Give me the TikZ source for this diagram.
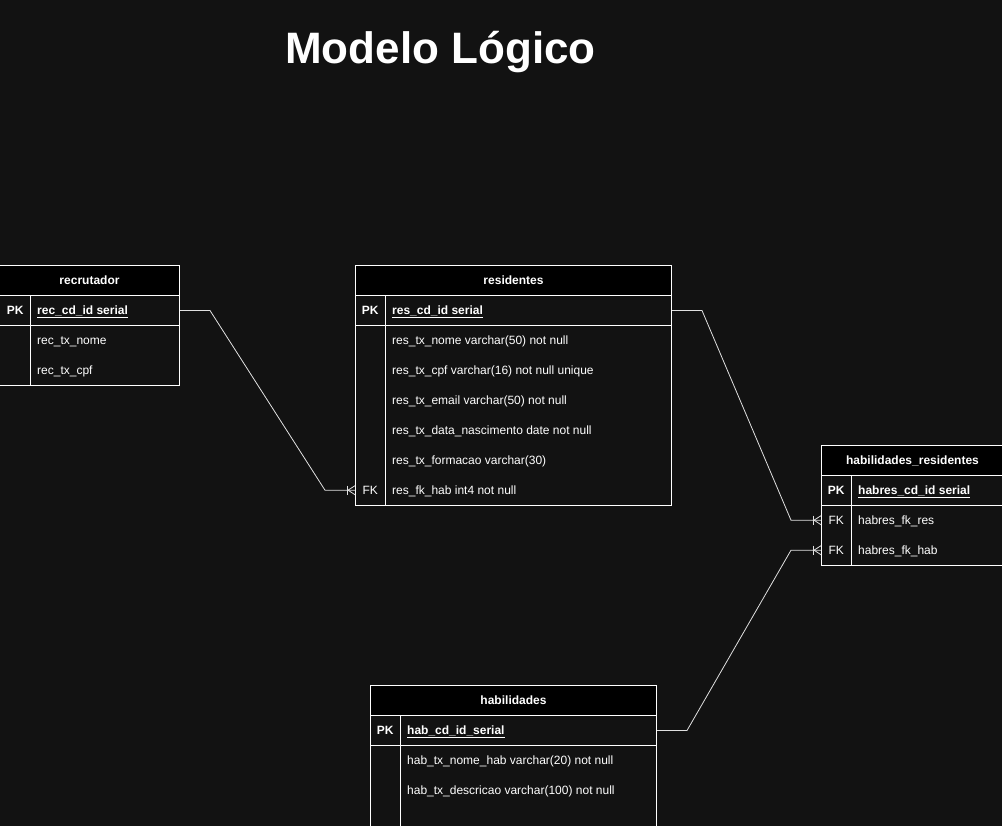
\documentclass[tikz,border=0pt]{standalone}
\usepackage{fontspec}
\setmainfont{Liberation Sans}
\usetikzlibrary{calc}
\definecolor{bgdark}{HTML}{121212}
\definecolor{linegray}{HTML}{E0E0E0}
\begin{document}
\begin{tikzpicture}[x=1pt, y=-1pt,
    head/.style={draw=white, fill=black, text=white, line width=1pt, minimum height=30pt, inner sep=0pt, anchor=north west, font=\bfseries\fontsize{12}{14}\selectfont},
    cell/.style={draw=white, fill=bgdark, line width=1pt, minimum height=30pt, inner sep=0pt, anchor=north west},
    keycell/.style={text=white, minimum width=30pt, minimum height=30pt, inner sep=0pt, anchor=north west, font=\fontsize{12}{14}\selectfont},
    field/.style={text=white, inner sep=0pt, anchor=west, yshift=-1.5pt, font=\fontsize{12}{14}\selectfont},
    conn/.style={draw=linegray, line width=0.8pt},
  ]
  % Background
  \fill[bgdark] (0,0) rectangle (1002,826);
  \useasboundingbox (0,0) rectangle (1002,826);

  % Title
  \node[text=white, anchor=base, font=\bfseries\fontsize{44}{50}\selectfont] (title) at (440.5,64) {Modelo Lógico};

  % Table recrutador
  \node[head, minimum width=180pt] (rec) at (-1,265) {recrutador};
  \node[cell, minimum width=31pt] at (-1,295) {};
  \node[cell, minimum width=149pt] (recPK) at (30,295) {};
  \node[cell, minimum width=31pt, minimum height=60pt] at (-1,325) {};
  \node[cell, minimum width=149pt, minimum height=60pt] at (30,325) {};
  \node[keycell, font=\bfseries\fontsize{12}{14}\selectfont] at (0,295) {PK};
  \node[field, font=\bfseries\fontsize{12}{14}\selectfont] at (37,310) {\underline{rec\_cd\_id serial}};
  \node[field] at (37,340) {rec\_tx\_nome};
  \node[field] at (37,370) {rec\_tx\_cpf};

  % Table residentes
  \node[head, minimum width=316pt] (res) at (355,265) {residentes};
  \node[cell, minimum width=30pt] at (355,295) {};
  \node[cell, minimum width=286pt] (resPK) at (385,295) {};
  \node[cell, minimum width=30pt, minimum height=180pt] at (355,325) {};
  \node[cell, minimum width=286pt, minimum height=180pt] at (385,325) {};
  \node[keycell, font=\bfseries\fontsize{12}{14}\selectfont] at (355,295) {PK};
  \node[field, font=\bfseries\fontsize{12}{14}\selectfont] at (392,310) {\underline{res\_cd\_id serial}};
  \node[field] at (392,340) {res\_tx\_nome varchar(50) not null};
  \node[field] at (392,370) {res\_tx\_cpf varchar(16) not null unique};
  \node[field] at (392,400) {res\_tx\_email varchar(50) not null};
  \node[field] at (392,430) {res\_tx\_data\_nascimento date not null};
  \node[field] at (392,460) {res\_tx\_formacao varchar(30)};
  \node[keycell] (resFK) at (355,475) {FK};
  \node[field] at (392,490) {res\_fk\_hab int4 not null};

  % Table habilidades_residentes
  \node[head, minimum width=182pt] (habres) at (821,445) {habilidades\_residentes};
  \node[cell, minimum width=30pt] at (821,475) {};
  \node[cell, minimum width=152pt] at (851,475) {};
  \node[cell, minimum width=30pt, minimum height=60pt] at (821,505) {};
  \node[cell, minimum width=152pt, minimum height=60pt] at (851,505) {};
  \node[keycell, font=\bfseries\fontsize{12}{14}\selectfont] at (821,475) {PK};
  \node[field, font=\bfseries\fontsize{12}{14}\selectfont] at (858,490) {\underline{habres\_cd\_id serial}};
  \node[keycell] (habresFKres) at (821,505) {FK};
  \node[field] at (858,520) {habres\_fk\_res};
  \node[keycell] (habresFKhab) at (821,535) {FK};
  \node[field] at (858,550) {habres\_fk\_hab};

  % Table habilidades
  \node[head, minimum width=286pt] (hab) at (370,685) {habilidades};
  \node[cell, minimum width=30pt] at (370,715) {};
  \node[cell, minimum width=256pt] (habPK) at (400,715) {};
  \node[cell, minimum width=30pt, minimum height=90pt] at (370,745) {};
  \node[cell, minimum width=256pt, minimum height=90pt] at (400,745) {};
  \node[keycell, font=\bfseries\fontsize{12}{14}\selectfont] at (370,715) {PK};
  \node[field, font=\bfseries\fontsize{12}{14}\selectfont] at (407,730) {\underline{hab\_cd\_id\_serial}};
  \node[field] at (407,760) {hab\_tx\_nome\_hab varchar(20) not null};
  \node[field] at (407,790) {hab\_tx\_descricao varchar(100) not null};

  % Relationships
  \draw[conn] (recPK.east) -- ++(30,0) -- ($(resFK.west)+(-30,0)$) -- (resFK.west);
  \draw[conn] (resPK.east) -- ++(30,0) -- ($(habresFKres.west)+(-30,0)$) -- (habresFKres.west);
  \draw[conn] (habPK.east) -- ++(30,0) -- ($(habresFKhab.west)+(-30,0)$) -- (habresFKhab.west);

  % Crow's feet (one or many)
  \foreach \fk in {resFK, habresFKres, habresFKhab} {
    \draw[conn] ($(\fk.west)+(-8,-4.5)$) -- ++(0,9);
    \draw[conn] ($(\fk.west)+(0,-4.5)$) -- ($(\fk.west)+(-7,0)$) -- ($(\fk.west)+(0,4.5)$);
  }
\end{tikzpicture}
\end{document}
